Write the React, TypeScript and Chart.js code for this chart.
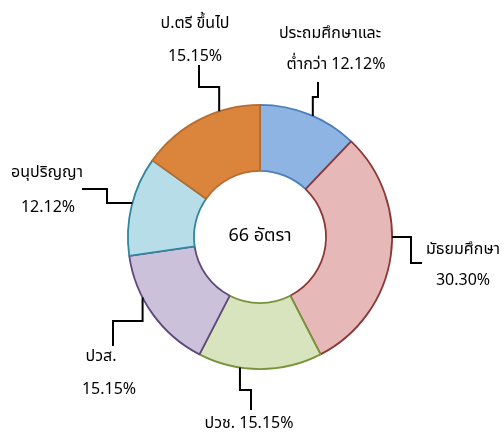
import { useEffect, useRef } from "react";
import { Chart, registerables } from "chart.js";

Chart.register(...registerables);

const categories = ["ประถมศึกษาและต่ำกว่า", "มัธยมศึกษา", "ปวช.", "ปวส.", "อนุปริญญา", "ป.ตรี ขึ้นไป"];
const counts = [8, 20, 10, 10, 8, 10];
const percentLabels = ["12.12%", "30.30%", "15.15%", "15.15%", "12.12%", "15.15%"];
const centerLabel = "66 อัตรา";
const labelLines: string[][] = [
  ["ประถมศึกษาและ", "ต่ำกว่า " + percentLabels[0]],
  [categories[1], percentLabels[1]],
  [categories[2] + " " + percentLabels[2]],
  [categories[3], percentLabels[3]],
  [categories[4], percentLabels[4]],
  [categories[5], percentLabels[5]],
];

const fills = ["#8EB4E3", "#E6B9B8", "#D7E4BD", "#CCC1DA", "#B7DEE8", "#DA843C"];
const borders = ["#4A7EBB", "#8C3836", "#77933C", "#5F497A", "#31859C", "#B66D31"];

const FONT = "Tahoma, 'Noto Sans Thai', 'Noto Sans', 'DejaVu Sans', sans-serif";

// label layout (styling / positions of annotations)
type Lay = {
  frac: number;
  texts: { x: number; y: number }[];
  type: "V" | "H";
  tx: number;
  ty: number;
  m: number;
};
const layout: Lay[] = [
  { frac: 0.54, texts: [{ x: 330, y: 38 }, { x: 336, y: 69 }], type: "V", tx: 318, ty: 82, m: 97 },
  { frac: 0.425, texts: [{ x: 463, y: 254 }, { x: 463, y: 285 }], type: "H", tx: 422, ty: 263, m: 411 },
  { frac: 0.66, texts: [{ x: 249, y: 428 }], type: "V", tx: 251, ty: 410, m: 390 },
  { frac: 0.65, texts: [{ x: 101, y: 361 }, { x: 109, y: 394 }], type: "V", tx: 113, ty: 346, m: 321 },
  { frac: 0.53, texts: [{ x: 47, y: 177 }, { x: 48, y: 212 }], type: "H", tx: 82, ty: 189, m: 107 },
  { frac: 0.67, texts: [{ x: 195, y: 28 }, { x: 195, y: 61 }], type: "V", tx: 199, ty: 65, m: 87 },
];

const labelPlugin = {
  id: "leaderLabels",
  afterDraw(chart: any) {
    const ctx = chart.ctx;
    const meta = chart.getDatasetMeta(0);
    ctx.save();
    meta.data.forEach((arc: any, i: number) => {
      const p = arc.getProps(["x", "y", "startAngle", "endAngle", "outerRadius"], true);
      const L = layout[i];
      const a = p.startAngle + L.frac * (p.endAngle - p.startAngle);
      const ax = p.x + Math.cos(a) * p.outerRadius;
      const ay = p.y + Math.sin(a) * p.outerRadius;
      let pts: number[][];
      if (L.type === "V") {
        pts = [[L.tx, L.ty], [L.tx, L.m], [ax, L.m], [ax, ay]];
      } else {
        pts = [[ax, ay], [L.m, ay], [L.m, L.ty], [L.tx, L.ty]];
      }
      ctx.beginPath();
      ctx.strokeStyle = "#000000";
      ctx.lineWidth = 2;
      ctx.lineJoin = "miter";
      pts.forEach((pt, k) => (k === 0 ? ctx.moveTo(pt[0], pt[1]) : ctx.lineTo(pt[0], pt[1])));
      ctx.stroke();

      ctx.fillStyle = "#000000";
      ctx.font = "16px " + FONT;
      ctx.textAlign = "center";
      ctx.textBaseline = "alphabetic";
      labelLines[i].forEach((t, k) => {
        const pos = L.texts[k];
        ctx.fillText(t, pos.x, pos.y);
      });
    });
    const a0 = meta.data[0];
    ctx.font = "18px " + FONT;
    ctx.textAlign = "center";
    ctx.textBaseline = "middle";
    ctx.fillStyle = "#000000";
    ctx.fillText(centerLabel, a0.x, a0.y);
    ctx.restore();
  },
};

export default function App() {
  const ref = useRef<HTMLCanvasElement | null>(null);
  useEffect(() => {
    if (!ref.current) return;
    const chart = new Chart(ref.current, {
      type: "doughnut",
      data: {
        labels: categories,
        datasets: [
          {
            data: counts,
            backgroundColor: fills,
            borderColor: borders,
            borderWidth: 1.8,
            borderAlign: "center",
          },
        ],
      },
      options: {
        responsive: true,
        maintainAspectRatio: false,
        animation: false,
        cutout: "50%",
        layout: { padding: { left: 127, top: 104, right: 111, bottom: 62 } },
        plugins: {
          legend: { display: false },
          tooltip: { enabled: false },
        },
      },
      plugins: [labelPlugin],
    });
    return () => chart.destroy();
  }, []);
  return (
    <div style={{ position: "fixed", left: 0, top: 0, width: 504, height: 432, background: "#ffffff" }}>
      <canvas ref={ref} />
    </div>
  );
}
